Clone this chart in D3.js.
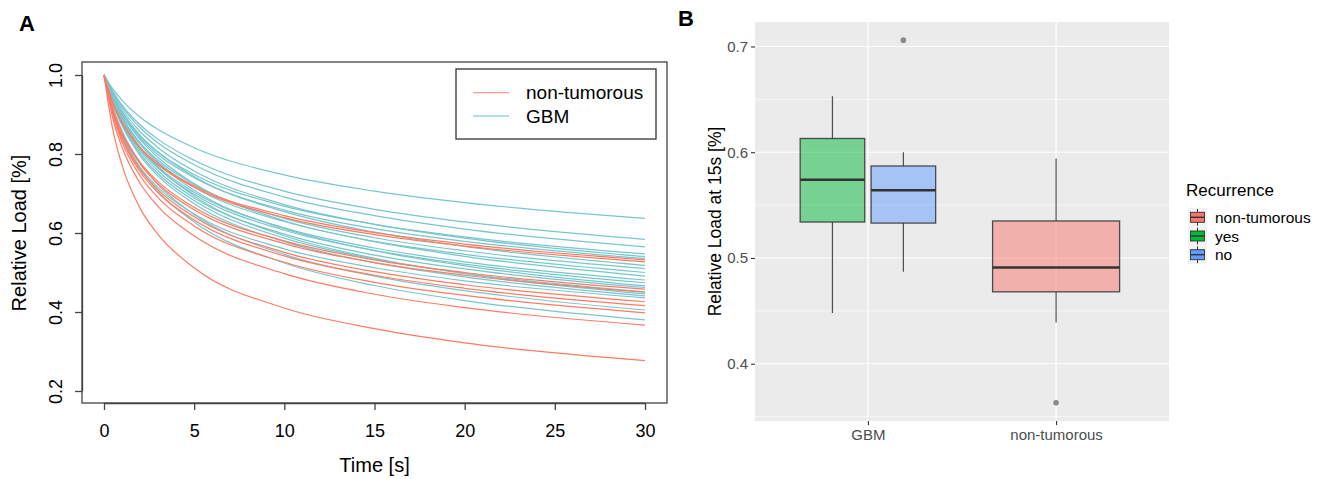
<!DOCTYPE html>
<html>
<head>
<meta charset="utf-8">
<script src="https://cdn.jsdelivr.net/npm/d3@7"></script>
<style>
  body { margin: 0; background: #fff; }
  svg { display: block; font-family: "Liberation Sans", Arial, sans-serif; }
</style>
</head>
<body>
<svg id="chart" width="1322" height="479"></svg>
<script>
// ---- panel A data: relative load curves, sampled at these times ----
const times = [0, 0.5, 1, 2, 3, 5, 10, 15, 20, 30];

const gbmCurves = [
  [1, .964, .936, .893, .862, .816, .747, .706, .677, .637],
  [1, .958, .924, .874, .837, .784, .706, .660, .628, .584],
  [1, .955, .920, .867, .828, .773, .691, .644, .610, .565],
  [1, .945, .904, .845, .804, .748, .668, .622, .590, .547],
  [1, .952, .914, .857, .816, .757, .672, .622, .587, .540],
  [1, .943, .900, .840, .798, .740, .658, .611, .579, .535],
  [1, .948, .908, .848, .805, .743, .654, .602, .566, .518],
  [1, .938, .893, .829, .784, .723, .637, .588, .555, .510],
  [1, .937, .890, .825, .779, .716, .629, .579, .546, .500],
  [1, .944, .901, .837, .791, .725, .631, .578, .541, .491],
  [1, .933, .884, .816, .768, .703, .613, .562, .527, .481],
  [1, .932, .882, .812, .764, .698, .607, .556, .521, .474],
  [1, .940, .894, .826, .777, .708, .611, .555, .517, .466],
  [1, .930, .879, .807, .757, .689, .597, .544, .509, .462],
  [1, .928, .875, .801, .750, .682, .587, .534, .498, .451],
  [1, .937, .889, .817, .766, .694, .593, .536, .497, .446],
  [1, .926, .872, .796, .744, .674, .578, .525, .489, .441],
  [1, .907, .846, .767, .715, .648, .560, .512, .479, .436],
  [1, .918, .859, .778, .722, .647, .546, .491, .454, .405],
  [1, .913, .850, .764, .705, .628, .524, .467, .429, .380]
];

const nonTumCurves = [
  [1, .928, .880, .817, .775, .719, .644, .601, .572, .532],
  [1, .927, .879, .815, .772, .716, .639, .596, .567, .527],
  [1, .912, .854, .779, .730, .665, .580, .532, .500, .458],
  [1, .910, .851, .775, .724, .659, .573, .525, .493, .450],
  [1, .904, .842, .761, .709, .641, .551, .502, .469, .426],
  [1, .902, .838, .755, .702, .633, .542, .493, .460, .416],
  [1, .897, .830, .745, .689, .618, .526, .475, .442, .398],
  [1, .888, .817, .726, .667, .593, .497, .445, .411, .367],
  [1, .859, .772, .663, .596, .512, .410, .358, .322, .277]
];

const xTicksA = [0, 5, 10, 15, 20, 25, 30];
const yTicksA = [0.2, 0.4, 0.6, 0.8, 1.0];
const legendA = ["non-tumorous", "GBM"];

// ---- panel B data: box plot of relative load at 15 s ----
const groupsB = ["GBM", "non-tumorous"];
const boxSeries = ["yes", "no", "non-tumorous"];
const boxGroup = ["GBM", "GBM", "non-tumorous"];
const whiskerLow = [0.448, 0.487, 0.439];
const q1 = [0.534, 0.533, 0.468];
const medians = [0.574, 0.564, 0.491];
const q3 = [0.613, 0.587, 0.535];
const whiskerHigh = [0.653, 0.600, 0.594];
const outlierSeries = ["no", "non-tumorous"];
const outlierValues = [0.706, 0.363];
const yTicksB = [0.4, 0.5, 0.6, 0.7];
const yMinorB = [0.35, 0.45, 0.55, 0.65];
const legendB = ["non-tumorous", "yes", "no"];

const svg = d3.select("#chart");

// ================= panel A =================
const red = "#FF7B63", teal = "#78C6CD";
const xA = d3.scaleLinear().domain([0, 30]).range([104, 645]);
const yA = d3.scaleLinear().domain([0.2, 1.0]).range([391, 75]);
const boxA = { left: 82, top: 62, right: 667, bottom: 403 };

const line = d3.line()
  .x((d, i) => xA(times[i]))
  .y(d => yA(d))
  .curve(d3.curveMonotoneX);

const gA = svg.append("g");
gA.selectAll(".gbm").data(gbmCurves).join("path")
  .attr("class", "gbm")
  .attr("d", line)
  .attr("fill", "none")
  .attr("stroke", teal)
  .attr("stroke-width", 1.2);
gA.selectAll(".nt").data(nonTumCurves).join("path")
  .attr("class", "nt")
  .attr("d", line)
  .attr("fill", "none")
  .attr("stroke", red)
  .attr("stroke-width", 1.2);

gA.append("rect")
  .attr("x", boxA.left).attr("y", boxA.top)
  .attr("width", boxA.right - boxA.left).attr("height", boxA.bottom - boxA.top)
  .attr("fill", "none").attr("stroke", "#444").attr("stroke-width", 1.3);

const xAxisA = gA.append("g")
  .attr("transform", `translate(0,${boxA.bottom})`)
  .call(d3.axisBottom(xA).tickValues(xTicksA).tickSize(7).tickSizeOuter(0).tickPadding(14));
xAxisA.selectAll("text").attr("font-size", 18).attr("fill", "#000")
  .attr("font-family", "Liberation Sans, Arial, sans-serif");

const yAxisA = gA.append("g")
  .attr("transform", `translate(${boxA.left},0)`)
  .call(d3.axisLeft(yA).tickValues(yTicksA).tickSize(7).tickSizeOuter(0).tickFormat(d3.format(".1f")));
yAxisA.selectAll("text")
  .attr("transform", "rotate(-90)")
  .attr("x", 0).attr("y", -20.5).attr("dy", 0)
  .attr("text-anchor", "middle")
  .attr("font-size", 18).attr("fill", "#000")
  .attr("font-family", "Liberation Sans, Arial, sans-serif");
gA.selectAll(".domain, .tick line").attr("stroke", "#444").attr("stroke-width", 1.3);

gA.append("text").attr("x", 374.5).attr("y", 472)
  .attr("text-anchor", "middle").attr("font-size", 20).text("Time [s]");
gA.append("text")
  .attr("transform", "translate(26,233) rotate(-90)")
  .attr("text-anchor", "middle").attr("font-size", 20).text("Relative Load [%]");

// legend A
const legA = gA.append("g");
legA.append("rect").attr("x", 456).attr("y", 69).attr("width", 200).attr("height", 70)
  .attr("fill", "#fff").attr("stroke", "#333").attr("stroke-width", 1.3);
legendA.forEach((lab, i) => {
  const yy = 92.7 + i * 23.3;
  legA.append("line").attr("x1", 473).attr("x2", 509).attr("y1", yy).attr("y2", yy)
    .attr("stroke", i === 0 ? red : teal).attr("stroke-width", 1.3).attr("opacity", 0.75);
  legA.append("text").attr("x", 526).attr("y", yy + 6.5).attr("font-size", 19).text(lab);
});

svg.append("text").attr("x", 19).attr("y", 31)
  .attr("font-family", "Liberation Sans Narrow, Liberation Sans, sans-serif")
  .attr("font-weight", "bold").attr("font-size", 22).text("A");

// ================= panel B =================
const fills = { "non-tumorous": "#F8766D", "yes": "#00BA38", "no": "#619CFF" };
const panelB = { left: 755, top: 22, right: 1169, bottom: 421 };
const allB = whiskerLow.concat(whiskerHigh, outlierValues);
const [lo, hi] = d3.extent(allB);
const pad = (hi - lo) * 0.05;
const yB = d3.scaleLinear().domain([lo - pad, hi + pad]).range([panelB.bottom, panelB.top]);
const xB = d3.scalePoint().domain(groupsB).range([panelB.left, panelB.right]).padding(0.6);
const stepB = xB.step();

const gB = svg.append("g");
gB.append("rect").attr("x", panelB.left).attr("y", panelB.top)
  .attr("width", panelB.right - panelB.left).attr("height", panelB.bottom - panelB.top)
  .attr("fill", "#EBEBEB");
gB.selectAll(".minor").data(yMinorB).join("line")
  .attr("x1", panelB.left).attr("x2", panelB.right)
  .attr("y1", d => yB(d)).attr("y2", d => yB(d))
  .attr("stroke", "#fff").attr("stroke-width", 0.6);
gB.selectAll(".major").data(yTicksB).join("line")
  .attr("x1", panelB.left).attr("x2", panelB.right)
  .attr("y1", d => yB(d)).attr("y2", d => yB(d))
  .attr("stroke", "#fff").attr("stroke-width", 1.2);
gB.selectAll(".vmajor").data(groupsB).join("line")
  .attr("x1", d => xB(d)).attr("x2", d => xB(d))
  .attr("y1", panelB.top).attr("y2", panelB.bottom)
  .attr("stroke", "#fff").attr("stroke-width", 1.2);

// box x positions: dodge inside GBM, single box for non-tumorous
function boxX(i) {
  const c = xB(boxGroup[i]);
  const members = boxSeries.filter((s, j) => boxGroup[j] === boxGroup[i]);
  if (members.length === 1) {
    const w = stepB * 0.675;
    return [c - w / 2, w];
  }
  const inner = d3.scaleBand().domain(members)
    .range([c - stepB * 0.36, c + stepB * 0.36]).paddingInner(0.09);
  return [inner(boxSeries[i]), inner.bandwidth()];
}

boxSeries.forEach((s, i) => {
  const [bx, bw] = boxX(i);
  const cx = bx + bw / 2;
  const g = gB.append("g");
  g.append("line").attr("x1", cx).attr("x2", cx)
    .attr("y1", yB(whiskerLow[i])).attr("y2", yB(q1[i]))
    .attr("stroke", "#333").attr("stroke-width", 1.2).attr("opacity", 0.85);
  g.append("line").attr("x1", cx).attr("x2", cx)
    .attr("y1", yB(q3[i])).attr("y2", yB(whiskerHigh[i]))
    .attr("stroke", "#333").attr("stroke-width", 1.2).attr("opacity", 0.85);
  g.append("rect").attr("x", bx).attr("y", yB(q3[i]))
    .attr("width", bw).attr("height", yB(q1[i]) - yB(q3[i]))
    .attr("fill", fills[s]).attr("fill-opacity", 0.5)
    .attr("stroke", "#333").attr("stroke-opacity", 0.85).attr("stroke-width", 1.3);
  g.append("line").attr("x1", bx).attr("x2", bx + bw)
    .attr("y1", yB(medians[i])).attr("y2", yB(medians[i]))
    .attr("stroke", "#333").attr("stroke-width", 2.4);
});

outlierSeries.forEach((s, k) => {
  const i = boxSeries.indexOf(s);
  const [bx, bw] = boxX(i);
  gB.append("circle").attr("cx", bx + bw / 2).attr("cy", yB(outlierValues[k]))
    .attr("r", 2.8).attr("fill", "#8A8A8A");
});

const yAxisB = gB.append("g").attr("transform", `translate(${panelB.left},0)`)
  .call(d3.axisLeft(yB).tickValues(yTicksB).tickSize(4).tickPadding(3).tickFormat(d3.format(".1f")));
const xAxisB = gB.append("g").attr("transform", `translate(0,${panelB.bottom})`)
  .call(d3.axisBottom(xB).tickSize(4).tickPadding(4));
gB.selectAll(".domain").remove();
gB.selectAll(".tick line").attr("stroke", "#333").attr("stroke-width", 1.1);
gB.selectAll(".tick text").attr("font-size", 15).attr("fill", "#4D4D4D")
  .attr("font-family", "Liberation Sans, Arial, sans-serif");

gB.append("text")
  .attr("transform", `translate(721,${(panelB.top + panelB.bottom) / 2}) rotate(-90)`)
  .attr("text-anchor", "middle").attr("font-size", 17.5).text("Relative Load at 15s [%]");

// legend B
const legB = gB.append("g");
legB.append("text").attr("x", 1186).attr("y", 196).attr("font-size", 17).text("Recurrence");
legendB.forEach((lab, i) => {
  const ky = 208 + i * 18.7;
  const kx = 1188;
  legB.append("rect").attr("x", kx).attr("y", ky).attr("width", 19).attr("height", 18.7)
    .attr("fill", "#F2F2F2");
  legB.append("line").attr("x1", kx + 9.5).attr("x2", kx + 9.5).attr("y1", ky + 1).attr("y2", ky + 17.7)
    .attr("stroke", "#333").attr("stroke-width", 1);
  legB.append("rect").attr("x", kx + 2.5).attr("y", ky + 4.3).attr("width", 14).attr("height", 10)
    .attr("fill", fills[lab]).attr("stroke", "#333").attr("stroke-width", 0.9);
  legB.append("line").attr("x1", kx + 2.5).attr("x2", kx + 16.5).attr("y1", ky + 9.3).attr("y2", ky + 9.3)
    .attr("stroke", "#333").attr("stroke-width", 1.4);
  legB.append("text").attr("x", 1215).attr("y", ky + 14.8).attr("font-size", 15.5).text(lab);
});

svg.append("text").attr("x", 678).attr("y", 26)
  .attr("font-family", "Liberation Sans Narrow, Liberation Sans, sans-serif")
  .attr("font-weight", "bold").attr("font-size", 22).text("B");
</script>
</body>
</html>
